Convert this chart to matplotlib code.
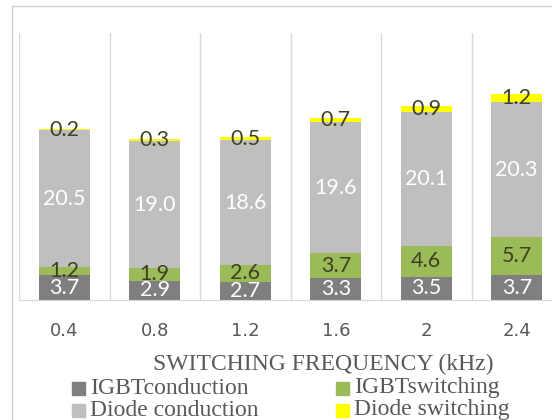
import matplotlib
matplotlib.use('Agg')
from matplotlib import pyplot as plt
from matplotlib.patches import Rectangle
import numpy as np

# Loss breakdown per switching frequency.
freqs = ['0.4', '0.8', '1.2', '1.6', '2', '2.4']
igbt_cond = [3.7, 2.9, 2.7, 3.3, 3.5, 3.7]
igbt_sw = [1.2, 1.9, 2.6, 3.7, 4.6, 5.7]
diode_cond = [20.5, 19.0, 18.6, 19.6, 20.1, 20.3]
diode_sw = [0.2, 0.3, 0.5, 0.7, 0.9, 1.2]
series_names = ['IGBTconduction', 'IGBTswitching', 'Diode conduction', 'Diode switching']

# Styles per series: fill colour and label colour.
fills = ['#7f7f7f', '#9bbb59', '#bfbfbf', '#ffff00']
label_cols = ['white', '#404020', 'white', '#404020']
serif = ['Liberation Serif', 'DejaVu Serif']

W, H = 552, 420
fig = plt.figure(figsize=(W/100, H/100), dpi=100)

# Chart area border.
fig.add_artist(Rectangle((12/W, -0.1), 1.2, 1-6/H+0.1, transform=fig.transFigure,
                         fill=False, edgecolor='#d0d0d0', lw=1.0))

# Plot area (runs past the right edge).
ax = fig.add_axes([19/W, 120/H, 543/W, 267/H])
x = np.arange(len(freqs))
bottom = np.zeros(len(freqs))
for vals, fc, lc in zip([igbt_cond, igbt_sw, diode_cond, diode_sw], fills, label_cols):
    vals = np.array(vals)
    bars = ax.bar(x, vals, width=0.56, bottom=bottom, color=fc, zorder=3)
    labels = ['%.1f' % v for v in vals]
    ax.bar_label(bars, labels=labels, label_type='center', color=lc,
                 fontsize=15.5, family='Lato', zorder=4)
    bottom += vals

# Vertical gridlines between categories.
for b in np.arange(-0.5, len(freqs), 1.0):
    ax.axvline(b, color='#d9d9d9', lw=1.0, zorder=1)

ax.set_xlim(-0.5, 5.5)
ax.set_ylim(0, 40)
ax.set_yticks([])
ax.set_xticks(x)
ax.set_xticklabels(freqs, color='#595959', fontsize=13, family='DejaVu Sans')
ax.tick_params(axis='x', length=0, pad=16)
for s in ['top', 'left', 'right']:
    ax.spines[s].set_visible(False)
ax.spines['bottom'].set_color('#d9d9d9')
ax.spines['bottom'].set_zorder(5)

# Axis title.
fig.text(323/W, 1-364/H, 'SWITCHING FREQUENCY (kHz)', ha='center', va='center',
         color='#595959', fontsize=17, family=serif)

# Legend, two columns.
leg_pos = [(72, 388), (336, 388), (72, 410), (336, 410)]
for name, fc, (lx, ly) in zip(series_names, fills, leg_pos):
    fig.add_artist(Rectangle((lx/W, 1-(ly+6.5)/H), 13/W, 13/H,
                             transform=fig.transFigure, color=fc))
    fig.text((lx+18)/W, 1-ly/H, name, ha='left', va='center',
             color='#595959', fontsize=17, family=serif)

fig.savefig('out.png', dpi=100)
